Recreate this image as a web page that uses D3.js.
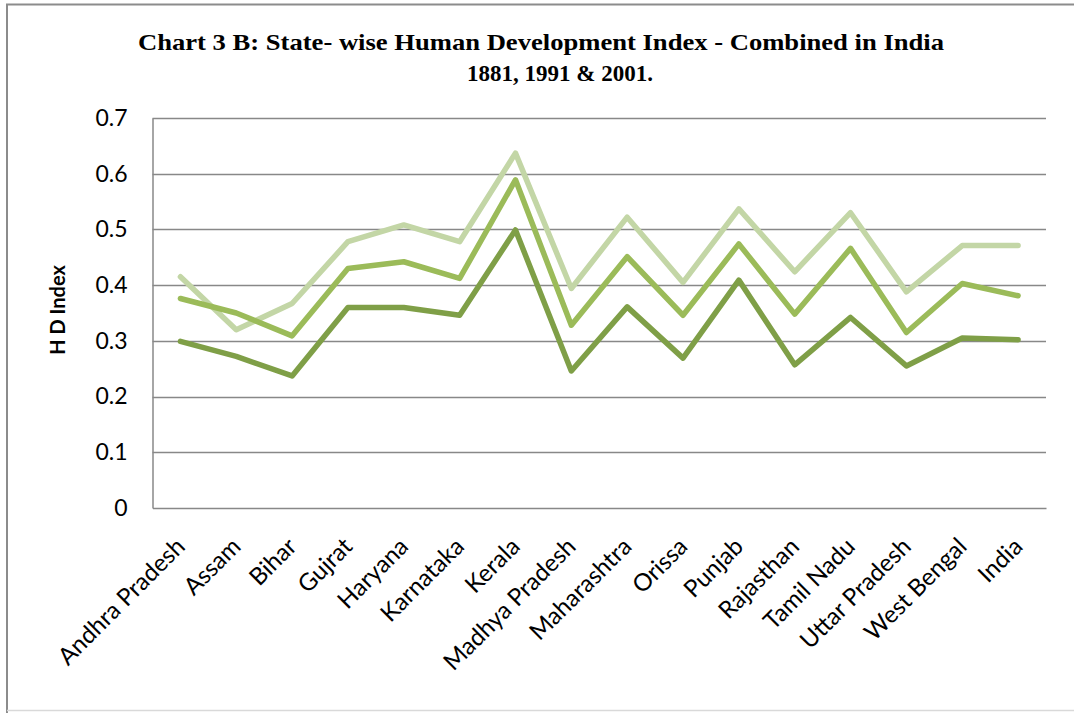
<!DOCTYPE html>
<html>
<head>
<meta charset="utf-8">
<script src="https://cdn.jsdelivr.net/npm/d3@7"></script>
<style>
  html, body { margin: 0; padding: 0; background: #fff; }
  svg { display: block; }
</style>
</head>
<body>
<svg id="chart" width="1074" height="713"></svg>
<script>
// States along the x axis
const states = ["Andhra Pradesh", "Assam", "Bihar", "Gujrat", "Haryana", "Karnataka",
  "Kerala", "Madhya Pradesh", "Maharashtra", "Orissa", "Punjab", "Rajasthan",
  "Tamil Nadu", "Uttar Pradesh", "West Bengal", "India"];

// Human Development Index by year
const hdi1881 = [0.299, 0.272, 0.237, 0.360, 0.360, 0.346, 0.499, 0.246,
  0.361, 0.269, 0.409, 0.257, 0.342, 0.255, 0.305, 0.302];
const hdi1991 = [0.376, 0.350, 0.309, 0.430, 0.442, 0.412, 0.589, 0.328,
  0.451, 0.346, 0.474, 0.348, 0.466, 0.315, 0.403, 0.381];
const hdi2001 = [0.415, 0.320, 0.367, 0.478, 0.508, 0.478, 0.637, 0.394,
  0.522, 0.405, 0.537, 0.424, 0.530, 0.388, 0.471, 0.471];

const yTicks = [0, 0.1, 0.2, 0.3, 0.4, 0.5, 0.6, 0.7];

const series = [
  { name: "2001", values: hdi2001, color: "#c3d6a6" },
  { name: "1991", values: hdi1991, color: "#9bbb59" },
  { name: "1881", values: hdi1881, color: "#7f9f47" }
];

const svg = d3.select("#chart");

// outer frame
svg.append("path")
  .attr("d", "M7,720 L7,4.5 L1080,4.5")
  .attr("fill", "none").attr("stroke", "#8c8c8c").attr("stroke-width", 2);
svg.append("line")
  .attr("x1", 7).attr("x2", 1080).attr("y1", 710.5).attr("y2", 710.5)
  .attr("stroke", "#d9d9d9").attr("stroke-width", 1.5);

const plot = { left: 152.5, right: 1046, top: 118, bottom: 508 };

const x = d3.scaleBand().domain(states).range([plot.left, plot.right]);
const y = d3.scaleLinear().domain([0, 0.7]).range([plot.bottom, plot.top]);
const cx = d => x(d) + x.bandwidth() / 2;

// title
const title = svg.append("text")
  .attr("font-family", "'Liberation Serif', 'Times New Roman', serif")
  .attr("font-weight", "bold").attr("fill", "#000");
title.append("tspan").attr("x", 541).attr("y", 50).attr("text-anchor", "middle")
  .attr("font-size", 24)
  .attr("textLength", 806).attr("lengthAdjust", "spacingAndGlyphs")
  .text("Chart 3 B: State- wise Human Development Index - Combined in India");
title.append("tspan").attr("x", 560).attr("y", 81).attr("text-anchor", "middle")
  .attr("font-size", 23)
  .text("1881, 1991 & 2001.");

// gridlines
svg.append("g")
  .selectAll("line").data(yTicks.filter(t => t > 0)).join("line")
  .attr("x1", plot.left).attr("x2", plot.right)
  .attr("y1", d => Math.round(y(d)) + 0.5).attr("y2", d => Math.round(y(d)) + 0.5)
  .attr("stroke", "#888").attr("stroke-width", 1.5);

// y axis
const yAxis = svg.append("g")
  .attr("transform", `translate(${plot.left},0)`)
  .call(d3.axisLeft(y).tickValues(yTicks).tickSize(0).tickPadding(25)
    .tickFormat(d => d === 0 ? "0" : d3.format(".1f")(d)));
yAxis.select(".domain").attr("stroke", "#888").attr("stroke-width", 1.5);
yAxis.selectAll("text")
  .attr("font-family", "Lato, 'Open Sans', sans-serif").attr("font-size", 23)
  .attr("fill", "#000");

// x axis baseline
const xAxis = svg.append("g")
  .attr("transform", `translate(0,${plot.bottom})`)
  .call(d3.axisBottom(x).tickSize(0).tickPadding(0));
xAxis.select(".domain").attr("stroke", "#888").attr("stroke-width", 1.5);
xAxis.selectAll(".tick text")
  .attr("font-family", "Lato, 'Open Sans', sans-serif").attr("font-size", 24)
  .attr("fill", "#000")
  .attr("text-anchor", "end")
  .attr("dy", 0)
  .attr("transform", "translate(6,40) rotate(-45)");

// y axis title
svg.append("text")
  .attr("transform", "translate(65,310) rotate(-90)")
  .attr("text-anchor", "middle")
  .attr("font-family", "Lato, 'Open Sans', sans-serif")
  .attr("font-weight", "bold").attr("font-size", 20)
  .text("H D Index");

// series lines
const line = d3.line().x((d, i) => cx(states[i])).y(d => y(d));
svg.append("g").selectAll("path").data(series).join("path")
  .attr("d", d => line(d.values))
  .attr("fill", "none")
  .attr("stroke", d => d.color)
  .attr("stroke-width", 5.5)
  .attr("stroke-linejoin", "round")
  .attr("stroke-linecap", "round");
</script>
</body>
</html>
